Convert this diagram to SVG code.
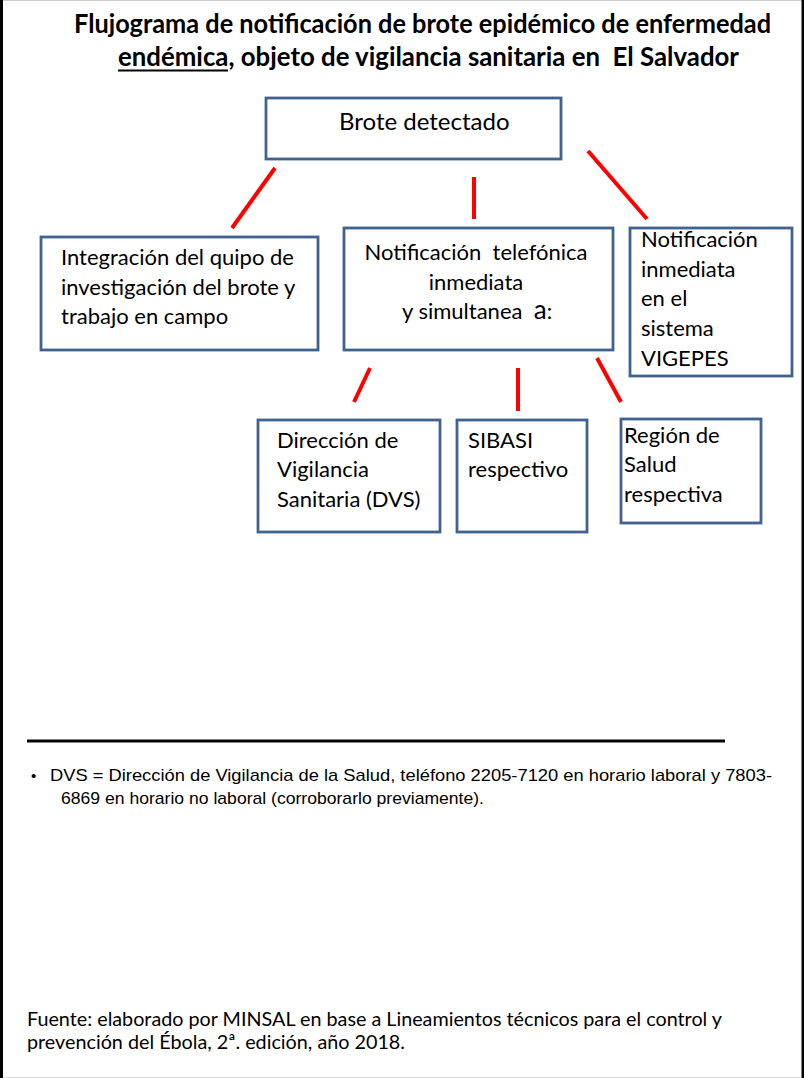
<svg xmlns="http://www.w3.org/2000/svg" width="804" height="1078" viewBox="0 0 804 1078">
<style>
.box{fill:#ffffff;stroke:#41628e;stroke-width:2.8}
.t{font-family:Lato,"Noto Sans",sans-serif;font-size:22px;fill:#000}
.con{stroke:#ff0000;stroke-width:4;fill:none}
.title{font-family:Lato,"Noto Sans",sans-serif;font-weight:bold;font-size:26px;fill:#000}
.note{font-family:"Liberation Sans",Arial,sans-serif;font-size:17px;fill:#000}
.src{font-family:Lato,"Noto Sans",sans-serif;font-size:20px;fill:#000}
</style>
<rect x="0" y="0" width="804" height="1078" fill="#ffffff"/>
<line x1="0" y1="0.5" x2="804" y2="0.5" stroke="#cccccc" stroke-width="1"/>
<line x1="0" y1="1077.5" x2="804" y2="1077.5" stroke="#dddddd" stroke-width="1"/>
<rect x="0" y="0" width="3" height="1078" fill="#000"/>
<rect x="801.5" y="0" width="2.5" height="1078" fill="#000"/>

<g id="title">
<text class="title" x="74" y="33" textLength="697" lengthAdjust="spacingAndGlyphs">Flujograma de notificación de brote epidémico de enfermedad</text>
<text class="title" x="118" y="66" textLength="621" lengthAdjust="spacingAndGlyphs" xml:space="preserve">endémica, objeto de vigilancia sanitaria en  El Salvador</text>
<line x1="118" y1="70.5" x2="228" y2="70.5" stroke="#000" stroke-width="2"/>
</g>

<g id="connectors">
<line class="con" x1="275" y1="168" x2="232" y2="228"/>
<line class="con" x1="474" y1="177" x2="474" y2="219"/>
<line class="con" x1="588" y1="151" x2="647" y2="219"/>
<line class="con" x1="370" y1="368" x2="354" y2="402"/>
<line class="con" x1="518" y1="368" x2="518" y2="411"/>
<line class="con" x1="597" y1="358" x2="621" y2="402"/>
</g>

<g id="brote">
<rect class="box" x="266" y="98" width="295" height="61"/>
<text class="t" x="339" y="130" style="font-size:24px">Brote detectado</text>
</g>

<g id="integracion">
<rect class="box" x="41" y="237" width="277" height="113"/>
<text class="t" x="61" y="265">Integración del quipo de</text>
<text class="t" x="61" y="295">investigación del brote y</text>
<text class="t" x="61" y="324">trabajo en campo</text>
</g>

<g id="notif-tel">
<rect class="box" x="344" y="228" width="269" height="122"/>
<text class="t" x="476" y="260" text-anchor="middle" xml:space="preserve">Notificación  telefónica</text>
<text class="t" x="476" y="290" text-anchor="middle">inmediata</text>
<text class="t" x="402" y="319" xml:space="preserve">y simultanea  <tspan style="font-size:26px">a</tspan>:</text>
</g>

<g id="vigepes">
<rect class="box" x="630" y="228" width="162" height="148"/>
<text class="t" x="641" y="247">Notificación</text>
<text class="t" x="641" y="277">inmediata</text>
<text class="t" x="641" y="306">en el</text>
<text class="t" x="641" y="336">sistema</text>
<text class="t" x="641" y="366">VIGEPES</text>
</g>

<g id="dvs">
<rect class="box" x="258" y="420" width="182" height="112"/>
<text class="t" x="277" y="448">Dirección de</text>
<text class="t" x="277" y="477">Vigilancia</text>
<text class="t" x="277" y="507">Sanitaria (DVS)</text>
</g>

<g id="sibasi">
<rect class="box" x="457" y="420" width="130" height="112"/>
<text class="t" x="468" y="448">SIBASI</text>
<text class="t" x="468" y="477">respectivo</text>
</g>

<g id="region">
<rect class="box" x="621" y="419" width="140" height="104"/>
<text class="t" x="624" y="443">Región de</text>
<text class="t" x="624" y="472">Salud</text>
<text class="t" x="624" y="502">respectiva</text>
</g>

<g id="notes">
<line x1="27" y1="741" x2="725" y2="741" stroke="#000" stroke-width="3"/>
<text class="note" x="31" y="781" style="font-size:15px">•</text>
<text class="note" x="50" y="781" textLength="722" lengthAdjust="spacingAndGlyphs">DVS = Dirección de Vigilancia de la Salud, teléfono 2205-7120 en horario laboral y 7803-</text>
<text class="note" x="61" y="804" textLength="423" lengthAdjust="spacingAndGlyphs">6869 en horario no laboral (corroborarlo previamente).</text>
<text class="src" x="27" y="1026" textLength="695" lengthAdjust="spacingAndGlyphs">Fuente: elaborado por MINSAL en base a Lineamientos técnicos para el control y</text>
<text class="src" x="27" y="1049" textLength="378" lengthAdjust="spacingAndGlyphs">prevención del Ébola, 2ª. edición, año 2018.</text>
</g>
</svg>
